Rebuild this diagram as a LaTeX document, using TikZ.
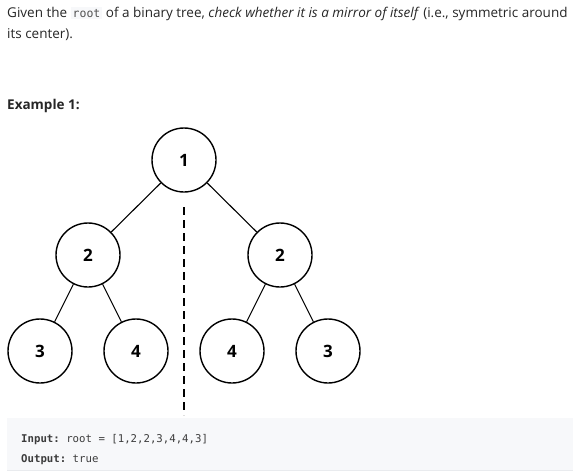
\documentclass[tikz,border=0pt]{standalone}
\usepackage{fontspec}
\setmainfont{Open Sans}
\setmonofont{DejaVu Sans Mono}
\usetikzlibrary{positioning}
\definecolor{txt}{RGB}{38,38,38}
\definecolor{codebg}{RGB}{247,248,250}
\definecolor{codeline}{RGB}{233,235,238}
\tikzset{
	treenode/.style={circle, draw=black, line width=1.4pt, fill=white,
		minimum size=64pt, inner sep=0pt, font=\fontsize{17}{17}\selectfont\bfseries},
	edge/.style={line width=1.1pt},
	mirror/.style={line width=2.6pt, dash pattern=on 8pt off 5pt},
	para/.style={anchor=base west, inner sep=0pt, text=txt, font=\fontsize{13.5}{16}\selectfont},
	codetext/.style={anchor=base west, inner sep=0pt, text=txt!90, font=\fontsize{10.7}{13}\ttfamily}
}
\newcommand{\inlinecode}[1]{{\setlength{\fboxsep}{2pt}\colorbox{codebg}{\fontsize{11.5}{14}\ttfamily\color{txt!80}#1}}}
\begin{document}
\begin{tikzpicture}[x=1pt,y=-1pt]
	\useasboundingbox (0,0) rectangle (573,474);

	% problem statement
	\node[para] (line1) at (7,17) {Given the \inlinecode{root} of a binary tree, \textit{check whether it is a mirror of itself} (i.e., symmetric around};
	\node[para] (line2) at (7,38) {its center).};
	\node[para, font=\fontsize{13.5}{16}\selectfont\bfseries] (example) at (7,109) {Example 1:};

	% code block
	\fill[codebg] (7,418) rectangle (573,470);
	\draw[codeline] (7,470.5) -- (573,470.5);

	% mirror axis
	\draw[mirror] (184,207) coordinate (axistop) -- (184,415) coordinate (axisbot);

	% tree
	\node[treenode] (n1) at (184,160) {1};
	\node[treenode] (l2) at (88,255) {2};
	\node[treenode] (r2) at (280,255) {2};
	\node[treenode] (l3) at (40,351) {3};
	\node[treenode] (l4) at (136,351) {4};
	\node[treenode] (r4) at (232,351) {4};
	\node[treenode] (r3) at (328,351) {3};
	\draw[edge] (n1) -- (l2);
	\draw[edge] (n1) -- (r2);
	\draw[edge] (l2) -- (l3);
	\draw[edge] (l2) -- (l4);
	\draw[edge] (r2) -- (r4);
	\draw[edge] (r2) -- (r3);

	\node[codetext] (input) at (21,442) {\textbf{Input:} root = [1,2,2,3,4,4,3]};
	\node[codetext] (output) at (21,462) {\textbf{Output:} true};
\end{tikzpicture}
\end{document}
